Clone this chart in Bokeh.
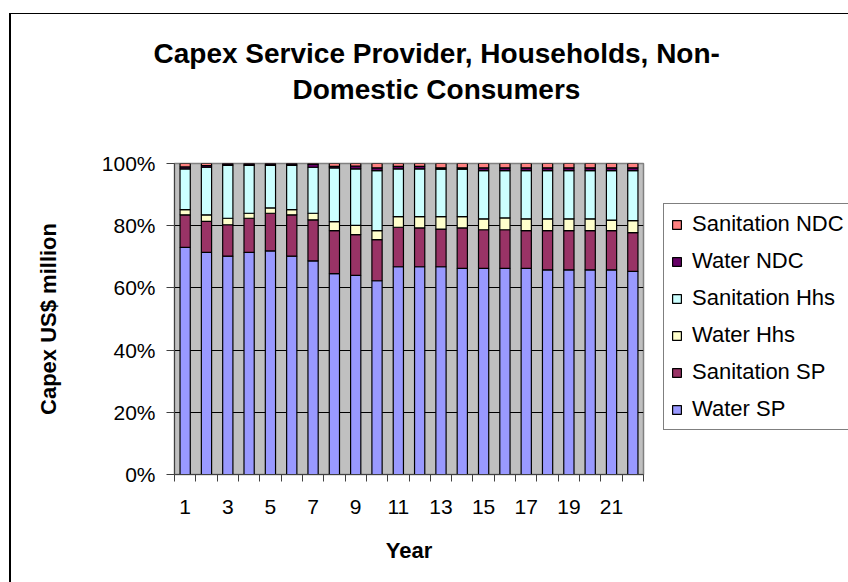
from bokeh.plotting import figure
from bokeh.models import (ColumnDataSource, Range1d, FixedTicker, Legend, LegendItem, Title)
from bokeh.embed import file_html
from bokeh.resources import INLINE

# ---- data (shares of capex, % of total per year) ----
years = list(range(1, 23))
water_sp = [73.0, 71.4, 70.2, 71.4, 71.9, 70.2, 68.7, 64.6, 64.0, 62.3, 66.8,
            66.8, 66.8, 66.3, 66.3, 66.3, 66.3, 65.8, 65.8, 65.8, 65.8, 65.3]
sanitation_sp = [10.5, 10.0, 10.1, 11.0, 12.1, 13.3, 13.2, 13.8, 13.1, 13.2, 12.7,
                 12.5, 12.1, 13.0, 12.4, 12.4, 12.1, 12.6, 12.6, 12.6, 12.6, 12.5]
water_hhs = [1.7, 2.1, 2.1, 1.6, 1.7, 1.7, 2.1, 2.9, 3.0, 2.9, 3.4,
             3.6, 4.0, 3.6, 3.5, 3.8, 3.8, 3.8, 3.8, 3.8, 3.4, 3.8]
sanitation_hhs = [13.1, 15.3, 17.0, 15.4, 13.7, 14.2, 14.8, 17.3, 18.2, 19.3, 15.4,
                  15.4, 15.3, 15.3, 15.5, 15.2, 15.5, 15.5, 15.5, 15.5, 15.9, 16.1]
water_ndc = [0.6, 0.5, 0.5, 0.5, 0.5, 0.5, 1.0, 0.5, 0.9, 0.9, 0.8,
             0.8, 0.4, 0.4, 0.9, 0.9, 0.9, 0.9, 0.9, 0.9, 0.9, 0.9]
sanitation_ndc = [1.1, 0.7, 0.1, 0.1, 0.1, 0.1, 0.2, 0.9, 0.8, 1.4, 0.9,
                  0.9, 1.4, 1.4, 1.4, 1.4, 1.4, 1.4, 1.4, 1.4, 1.4, 1.4]

series_names = ["Water SP", "Sanitation SP", "Water Hhs", "Sanitation Hhs",
                "Water NDC", "Sanitation NDC"]
series_colors = ["#9999FF", "#993366", "#FFFFCC", "#CCFFFF", "#660066", "#FF8080"]
y_ticks = [0, 20, 40, 60, 80, 100]
y_tick_labels = ["0%", "20%", "40%", "60%", "80%", "100%"]
x_tick_years = [1, 3, 5, 7, 9, 11, 13, 15, 17, 19, 21]

title_line1 = "Capex Service Provider, Households, Non-"
title_line2 = "Domestic Consumers"

# normalise to 100 % stacked
cols = [water_sp, sanitation_sp, water_hhs, sanitation_hhs, water_ndc, sanitation_ndc]
totals = [sum(c[i] for c in cols) for i in range(len(years))]
data = {"year": years}
for name, c in zip(series_names, cols):
    data[name] = [100.0 * v / t for v, t in zip(c, totals)]
source = ColumnDataSource(data)

FONT = "Liberation Sans"

p = figure(width=837, height=568, output_backend="svg", toolbar_location=None,
           x_range=Range1d(0.5, 22.5), y_range=Range1d(0, 100),
           frame_width=469, frame_height=311,
           min_border_left=163, min_border_right=205,
           min_border_top=149, min_border_bottom=108,
           background_fill_color="#C0C0C0", border_fill_color="white",
           outline_line_color="#808080", outline_line_width=1.5)
# chart-area border (top and left edges, as in the reference)
p.styles = {"margin-top": "13px", "margin-left": "9px",
            "border-top": "1px solid black", "border-left": "2px solid black"}

renderers = p.vbar_stack(series_names, x="year", width=0.48, source=source,
                         fill_color=series_colors, line_color="black",
                         line_width=1.2)

# grid
p.xgrid.visible = False
p.ygrid.grid_line_color = "black"
p.ygrid.grid_line_width = 1
p.ygrid.ticker = FixedTicker(ticks=y_ticks)

# y axis
p.yaxis.ticker = FixedTicker(ticks=y_ticks)
p.yaxis.major_label_overrides = {t: l for t, l in zip(y_ticks, y_tick_labels)}
p.yaxis.axis_label = "Capex US$ million"
p.yaxis.axis_label_text_font = FONT
p.yaxis.axis_label_text_font_size = "22px"
p.yaxis.axis_label_text_font_style = "bold"
p.yaxis.axis_label_text_color = "black"
p.yaxis.axis_label_standoff = 38
p.yaxis.major_label_text_font = FONT
p.yaxis.major_label_text_font_size = "21px"
p.yaxis.major_label_text_color = "black"
p.yaxis.major_label_standoff = 11
p.yaxis.major_tick_out = 8
p.yaxis.major_tick_in = 0
p.yaxis.minor_tick_out = 0
p.yaxis.minor_tick_in = 0
p.yaxis.axis_line_color = "#404040"
p.yaxis.major_tick_line_color = "#404040"

# x axis
p.xaxis.ticker = FixedTicker(ticks=x_tick_years,
                             minor_ticks=[y - 0.5 for y in years] + [years[-1] + 0.5])
p.xaxis.axis_label = "Year"
p.xaxis.axis_label_text_font = FONT
p.xaxis.axis_label_text_font_size = "22px"
p.xaxis.axis_label_text_font_style = "bold"
p.xaxis.axis_label_text_color = "black"
p.xaxis.axis_label_standoff = 21
p.xaxis.major_label_text_font = FONT
p.xaxis.major_label_text_font_size = "21px"
p.xaxis.major_label_text_color = "black"
p.xaxis.major_label_standoff = 18
p.xaxis.major_tick_out = 0
p.xaxis.major_tick_in = 0
p.xaxis.minor_tick_out = 7
p.xaxis.minor_tick_in = 0
p.xaxis.axis_line_color = "#404040"
p.xaxis.minor_tick_line_color = "#404040"

# title (two lines): p.title is the outer line; an empty spacer sits next to the frame
p.title.text = title_line1
p.title.text_font = FONT
p.title.text_font_size = "28px"
p.title.text_font_style = "bold"
p.title.text_color = "black"
p.title.align = "left"
p.title.offset = -21
p.title.standoff = 0
spacer = Title(text=" ", text_font=FONT, text_font_size="28px", standoff=22)
t2 = Title(text=title_line2, text_font=FONT, text_font_size="28px",
           text_font_style="bold", text_color="black", align="left",
           offset=118, standoff=7)
p.add_layout(spacer, "above")
p.add_layout(t2, "above")

# legend (reverse order, as in reference), in the right side panel
items = [LegendItem(label=n, renderers=[r]) for n, r in zip(series_names, renderers)]
legend = Legend(items=list(reversed(items)), location=(20, 44),
                label_text_font=FONT, label_text_font_size="22px",
                label_text_color="black", glyph_width=11, glyph_height=11,
                label_height=25, spacing=11, padding=7, label_standoff=10,
                border_line_color="black", border_line_width=1,
                background_fill_color="white", background_fill_alpha=1.0,
                margin=0)
p.add_layout(legend, "right")

open("out.html", "w").write(file_html(p, INLINE))
